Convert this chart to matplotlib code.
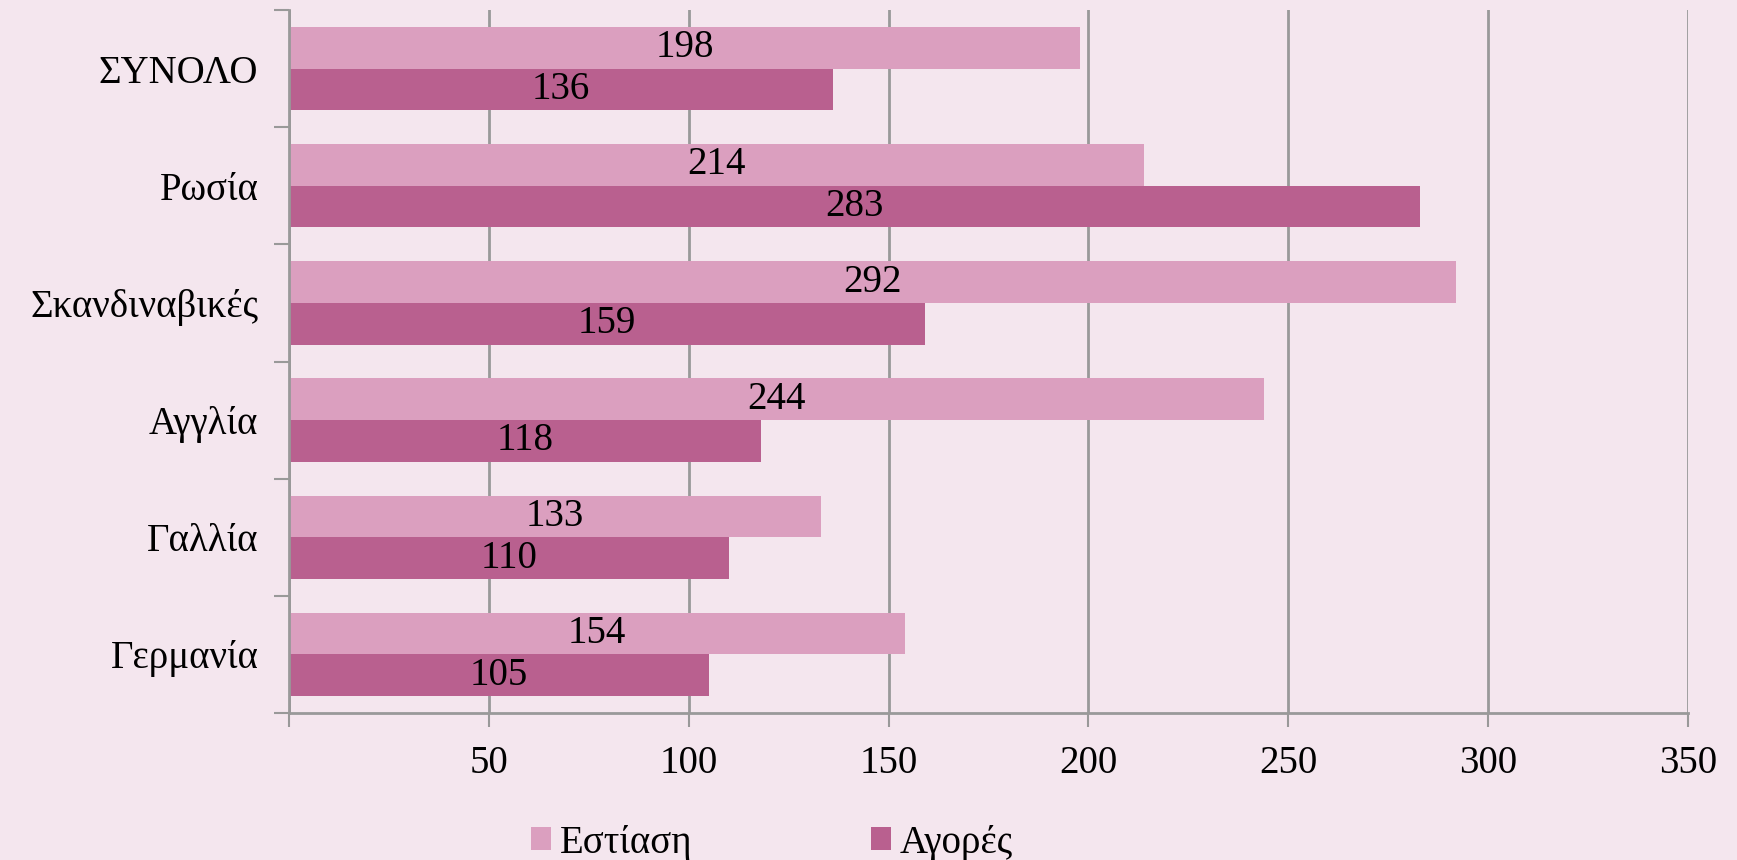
import numpy as np
import matplotlib.pyplot as plt
from matplotlib.patches import Patch
from matplotlib.ticker import FixedLocator

# δεδομένα ανά αγορά (από πάνω προς τα κάτω)
categories = ["ΣΥΝΟΛΟ", "Ρωσία", "Σκανδιναβικές", "Αγγλία", "Γαλλία", "Γερμανία"]
estiasi = [198, 214, 292, 244, 133, 154]
agores = [136, 283, 159, 118, 110, 105]
series_names = ["Εστίαση", "Αγορές"]
xticks = [0, 50, 100, 150, 200, 250, 300, 350]
xtick_labels = ["", "50", "100", "150", "200", "250", "300", "350"]

bg = "#F4E6EE"
c_light = "#DB9FBF"
c_dark = "#B9608F"
grid_c = "#999999"
fs = 28

plt.rcParams['font.family'] = ['Liberation Serif', 'DejaVu Serif']

fig = plt.figure(figsize=(17.37, 8.6), dpi=100, facecolor=bg)
ax = fig.add_axes([289 / 1737, 1 - 713 / 860, (1688 - 289) / 1737, 703 / 860])
ax.set_facecolor(bg)

y = np.arange(len(categories))
h = 0.356
b1 = ax.barh(y - h / 2, estiasi, height=h, color=c_light, zorder=3)
b2 = ax.barh(y + h / 2, agores, height=h, color=c_dark, zorder=3)

# τιμές στο κέντρο κάθε μπάρας
for bars, vals in ((b1, estiasi), (b2, agores)):
    for rect, v in zip(bars, vals):
        ax.text(v / 2, rect.get_y() + rect.get_height() / 2, str(v),
                ha="center", va="center", fontsize=fs, color="black", zorder=4)

ax.set_xlim(0, 350)
ax.set_ylim(len(categories) - 0.5, -0.5)

ax.set_xticks(xticks)
ax.set_xticklabels(xtick_labels, fontsize=fs)
ax.tick_params(axis="x", direction="out", length=10, width=1.5, color=grid_c, pad=13)
ax.xaxis.grid(True, color=grid_c, linewidth=2, zorder=0)

ax.set_yticks(y)
ax.set_yticklabels(categories, fontsize=fs)
ax.tick_params(axis="y", which="major", length=0, pad=22)
ax.yaxis.set_minor_locator(FixedLocator(np.arange(-0.5, len(categories), 1.0)))
ax.tick_params(axis="y", which="minor", direction="out", length=11, width=1.5, color=grid_c)

for s in ("top", "right"):
    ax.spines[s].set_visible(False)
for s in ("left", "bottom"):
    ax.spines[s].set_color(grid_c)
    ax.spines[s].set_linewidth(2)
    ax.spines[s].set_zorder(5)

handles = [Patch(facecolor=c_light), Patch(facecolor=c_dark)]
fig.legend(handles, series_names, loc="center left", bbox_to_anchor=(531 / 1737, 1 - 843 / 860),
           ncol=2, frameon=False, fontsize=fs, handlelength=0.51, handleheight=0.51,
           handletextpad=0.23, columnspacing=4.6, borderpad=0, borderaxespad=0)

fig.savefig("out.png", dpi=100, facecolor=bg)
